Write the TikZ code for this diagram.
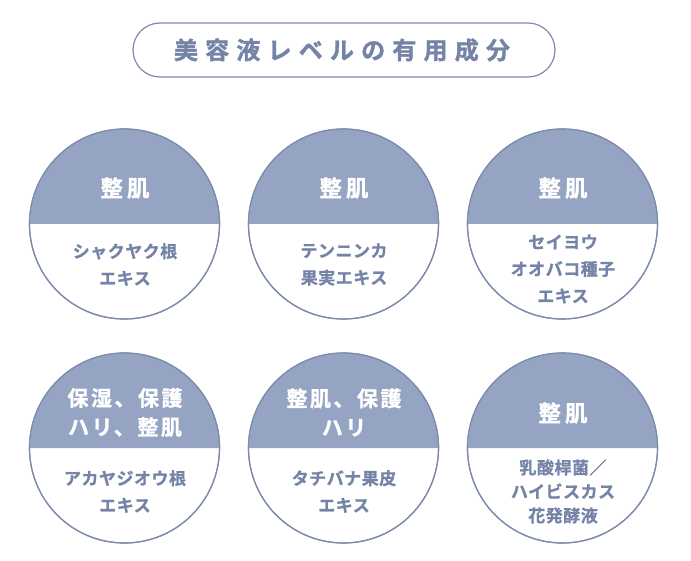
\documentclass[tikz,border=0pt]{standalone}
\usepackage{fontspec}
\newfontfamily\jpt{Noto Sans CJK JP Bold}[FakeBold=1.5, LetterSpace=30]
\newfontfamily\jph{Noto Sans CJK JP Bold}[FakeBold=1.2, LetterSpace=12]
\newfontfamily\jpb{Noto Sans CJK JP Bold}[FakeBold=1.0, LetterSpace=3]
\definecolor{fillc}{RGB}{149,164,194}
\definecolor{linec}{RGB}{124,138,172}
\definecolor{txtc}{RGB}{116,131,166}
\tikzset{
  disc/.style={circle, draw=linec, line width=1.2pt, minimum size=190pt, inner sep=0pt},
  head/.style={text=white, align=center, font=\jph\fontsize{21}{29}\selectfont},
  headbig/.style={text=white, align=center, font=\jph\fontsize{22.5}{29}\selectfont},
  body/.style={text=txtc, align=center, font=\jpb\fontsize{17}{27}\selectfont},
  bodytight/.style={text=txtc, align=center, font=\jpb\fontsize{17}{24}\selectfont},
  titlebox/.style={draw=linec, line width=1.2pt, rounded corners=27pt, minimum width=422pt, minimum height=54pt},
}
\newcommand{\halfdisc}[1]{%
  \fill[fillc] (#1.east) arc (0:180:95pt) -- cycle;
  \draw[linec, line width=1.2pt] (#1.center) circle (95pt);
}
\begin{document}
\begin{tikzpicture}[x=1pt,y=-1pt]
\useasboundingbox (0,0) rectangle (691,561);
\node[titlebox] (title) at (344,50) {};
\node[text=txtc, font=\jpt\fontsize{24}{28}\selectfont, xshift=-2pt] (tt) at (title.center) {美容液レベルの有用成分};
% circles
\node[disc] (c1) at (124.5,224) {};
\node[disc] (c2) at (343.5,224) {};
\node[disc] (c3) at (562.5,224) {};
\node[disc] (c4) at (124.5,448) {};
\node[disc] (c5) at (343.5,448) {};
\node[disc] (c6) at (562.5,448) {};
\halfdisc{c1}\halfdisc{c2}\halfdisc{c3}\halfdisc{c4}\halfdisc{c5}\halfdisc{c6}
% headings
\node[headbig] (h1) at (125,188) {整\hspace{4pt}肌};
\node[headbig] (h2) at (344,188) {整\hspace{4pt}肌};
\node[headbig] (h3) at (563,188) {整\hspace{4pt}肌};
\node[head] (h4) at (125,412.5) {保湿、保護\\ハリ、整肌};
\node[head] (h5) at (344,412.5) {整肌、保護\\ハリ};
\node[headbig] (h6) at (563,413) {整\hspace{4pt}肌};
% bodies
\node[body] (b1) at (125,264.5) {シャクヤク根\\エキス};
\node[body] (b2) at (344,264.5) {テンニンカ\\果実エキス};
\node[body] (b3) at (563,269) {セイヨウ\\オオバコ種子\\エキス};
\node[body] (b4) at (125,491.5) {アカヤジオウ根\\エキス};
\node[body] (b5) at (344,491.5) {タチバナ果皮\\エキス};
\node[bodytight] (b6) at (563,491.5) {乳酸桿菌／\\ハイビスカス\\花発酵液};
\end{tikzpicture}
\end{document}
